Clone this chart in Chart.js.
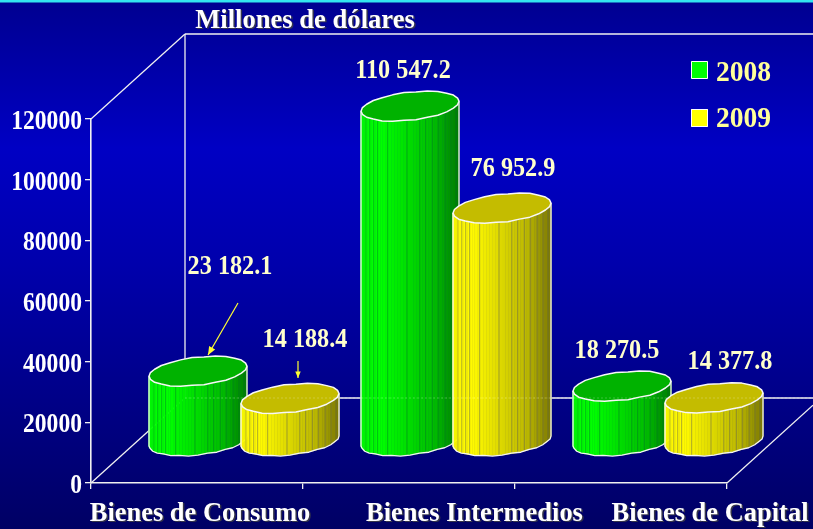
<!DOCTYPE html>
<html><head><meta charset="utf-8">
<style>html,body{margin:0;padding:0;background:#00008c}canvas{display:block}</style>
<script src="https://cdn.jsdelivr.net/npm/chart.js@4/dist/chart.umd.min.js"></script>
</head><body><div style="width:813px;height:529px"><canvas id="c" width="813" height="529"></canvas></div>
<script>
const categories = ["Bienes de Consumo", "Bienes Intermedios", "Bienes de Capital"];
const seriesNames = ["2008", "2009"];
const values2008 = [23182.1, 110547.2, 18270.5];
const values2009 = [14188.4, 76952.9, 14377.8];
const labels2008 = ["23 182.1", "110 547.2", "18 270.5"];
const labels2009 = ["14 188.4", "76 952.9", "14 377.8"];
const chartTitle = "Millones de dólares";

const SERIF = '"Liberation Serif","Times New Roman",serif';
const DEPTH = {x: 94, y: -85};
const MID = {x: 47, y: -41.5};
const TEXT_DY = 2;
const palette = [
  {r:0,g:255,b:0,top:'#00b200',rule:'rgba(0,110,40,.4)'},
  {r:255,g:250,b:0,top:'#c4bc00',rule:'rgba(100,100,80,.45)'}
];
const labelPos = [[[230,265],[403,69],[617,349]],[[305,338],[513,167],[730,360]]];
const catLabelX = [200,474.5,710];
const wobble = [0,.7,-.6,.5,.9,-.5,.6,-.7,.4,.8,-.4,.6,-.8,.5,.7,-.6,.4,-.5];
const facetRules = [.05,.09,.13,.17,.27,.47,.6,.66,.73,.79,.86,.92,.97];

function scaledText(ctx,t,x,y,sx){ctx.save();ctx.translate(x,y+TEXT_DY);ctx.scale(sx,1);ctx.fillText(t,0,0);ctx.restore();}
function shadowText(ctx,t,x,y,sx,color){
  ctx.fillStyle='rgba(60,60,70,.9)';scaledText(ctx,t,x+1.5,y+1.5,sx);
  ctx.fillStyle=color;scaledText(ctx,t,x,y,sx);
}
function ellPt(cx,cy,a,b,s,t){return [cx+a*Math.cos(t), cy+b*Math.sin(t)-s*Math.cos(t)];}
function shade(u){
  if(u<.2) return 1;
  if(u<.75) return 1-(u-.2)/.55*.26;
  return .74-(u-.75)/.25*.24;
}
function cylinder(ctx,el,pal){
  const a=el.width/2, b=14, s=5;
  const cx=el.x+MID.x, top=el.y+MID.y, bot=el.base+MID.y;
  const N=48;
  for(let i=0;i<N;i++){
    const t0=Math.PI*i/N,t1=Math.PI*(i+1)/N;
    const p0=ellPt(cx,bot,a,b,s,t0),p1=ellPt(cx,bot,a,b,s,t1);
    const q0=ellPt(cx,top,a,b,s,t0),q1=ellPt(cx,top,a,b,s,t1);
    const k=shade(((p0[0]+p1[0])/2-(cx-a))/(2*a));
    const col=`rgb(${Math.round(pal.r*k)},${Math.round(pal.g*k)},${pal.b})`;
    ctx.fillStyle=col;ctx.strokeStyle=col;ctx.lineWidth=.6;
    ctx.beginPath();ctx.moveTo(p0[0],p0[1]);ctx.lineTo(p1[0],p1[1]);ctx.lineTo(q1[0],q1[1]);ctx.lineTo(q0[0],q0[1]);ctx.closePath();ctx.fill();ctx.stroke();
  }
  ctx.strokeStyle=pal.rule;ctx.lineWidth=1;
  facetRules.forEach(u=>{
    const t=Math.acos(1-2*u);
    const p=ellPt(cx,bot,a,b,s,Math.PI-t),q=ellPt(cx,top,a,b,s,Math.PI-t);
    line(ctx,p[0],p[1],q[0],q[1]);
  });
  ctx.strokeStyle='#f4f4f4';ctx.lineWidth=1.3;ctx.lineJoin='round';
  ctx.beginPath();
  const first=ellPt(cx,top,a,b,s,Math.PI);ctx.moveTo(first[0],first[1]);
  const E=16;
  for(let i=E;i>=0;i--){const w=wobble[i%wobble.length]*.6;const p=ellPt(cx,bot+w,a,b,s,Math.PI*i/E);ctx.lineTo(p[0],p[1]);}
  const last=ellPt(cx,top,a,b,s,0);ctx.lineTo(last[0],last[1]);ctx.stroke();
  ctx.beginPath();
  const M=26;
  for(let i=0;i<M;i++){
    const t=2*Math.PI*i/M,w=1+wobble[i%wobble.length]*.04;
    const p=ellPt(cx,top,a,b*w,s,t);
    i?ctx.lineTo(p[0],p[1]):ctx.moveTo(p[0],p[1]);
  }
  ctx.closePath();ctx.fillStyle=pal.top;ctx.fill();ctx.strokeStyle='#f8f8f8';ctx.lineWidth=1.5;ctx.stroke();
}
function line(ctx,x0,y0,x1,y1){ctx.beginPath();ctx.moveTo(x0,y0);ctx.lineTo(x1,y1);ctx.stroke();}
function arrow(ctx,x0,y0,x1,y1,h){
  ctx.strokeStyle='#ffff33';ctx.fillStyle='#ffff33';ctx.lineWidth=1.2;line(ctx,x0,y0,x1,y1);
  const an=Math.atan2(y1-y0,x1-x0);
  ctx.beginPath();ctx.moveTo(x1,y1);
  ctx.lineTo(x1-h*Math.cos(an-.4),y1-h*Math.sin(an-.4));
  ctx.lineTo(x1-h*Math.cos(an+.4),y1-h*Math.sin(an+.4));ctx.closePath();ctx.fill();
}

const scene = {
  id:'scene',
  beforeDraw(chart){
    const {ctx,width,height}=chart;
    const g=ctx.createLinearGradient(0,0,0,height);
    g.addColorStop(0,'#000090');g.addColorStop(.28,'#0000c4');g.addColorStop(.5,'#0000ac');g.addColorStop(1,'#000064');
    ctx.save();ctx.fillStyle=g;ctx.fillRect(0,0,width,height);
    ctx.fillStyle='#33e6f0';ctx.fillRect(0,0,width,2.5);ctx.restore();
  },
  beforeDatasetsDraw(chart){
    const {ctx,chartArea:ca,width}=chart;
    const bx=ca.left+DEPTH.x, ty=ca.top+DEPTH.y, by=ca.bottom+DEPTH.y;
    ctx.save();ctx.strokeStyle='#f0f0f0';ctx.lineWidth=1.3;
    line(ctx,ca.left,ca.top,bx,ty);
    line(ctx,ca.left,ca.bottom,bx,by);
    line(ctx,bx,ty,bx,by);
    line(ctx,bx,ty,width,ty);
    line(ctx,bx,by,width,by);
    line(ctx,ca.right,ca.bottom,width,ca.bottom-(width-ca.right)*85/94);
    ctx.restore();
  },
  afterDatasetsDraw(chart){
    const {ctx,chartArea:ca,width,scales}=chart;
    const m=[chart.getDatasetMeta(0),chart.getDatasetMeta(1)];
    ctx.save();
    categories.forEach((_,j)=>{cylinder(ctx,m[0].data[j],palette[0]);cylinder(ctx,m[1].data[j],palette[1]);});
    ctx.strokeStyle='rgba(255,255,255,.22)';ctx.lineWidth=1;ctx.setLineDash([2,2]);
    line(ctx,ca.left+DEPTH.x,ca.bottom+DEPTH.y,width,ca.bottom+DEPTH.y);ctx.setLineDash([]);
    ctx.textBaseline='middle';
    ctx.textAlign='right';ctx.font='bold 26.5px '+SERIF;ctx.fillStyle='#ffffff';
    scales.y.ticks.forEach((tk,i)=>scaledText(ctx,String(tk.value),82,scales.y.getPixelForTick(i)+1,.89));
    ctx.textAlign='center';
    ctx.font='bold 28px '+SERIF;
    [labels2008,labels2009].forEach((arr,i)=>arr.forEach((t,j)=>{
      ctx.fillStyle='#ffffcc';scaledText(ctx,t,labelPos[i][j][0],labelPos[i][j][1],.865);
    }));
    ctx.font='bold 27px '+SERIF;
    categories.forEach((t,j)=>shadowText(ctx,t,catLabelX[j],512,.98,'#ffffff'));
    shadowText(ctx,chartTitle,305,19,.985,'#ffffff');
    const sq=[[691,61],[691,109]], colors=['#00ff00','#ffff00'], legY=[71,117];
    ctx.textAlign='left';ctx.font='bold 30px '+SERIF;
    seriesNames.forEach((t,i)=>{
      ctx.fillStyle=colors[i];ctx.fillRect(sq[i][0],sq[i][1],17,18);
      ctx.strokeStyle='#fff';ctx.lineWidth=1;ctx.strokeRect(sq[i][0]+.5,sq[i][1]+.5,16,17);
      ctx.fillStyle='#ffff99';scaledText(ctx,t,716,legY[i],.917);
    });
    arrow(ctx,238,303,208,355,9);
    arrow(ctx,298,361,298,378,7);
    ctx.restore();
  }
};

new Chart(document.getElementById('c'),{
  type:'bar',
  plugins:[scene],
  data:{labels:categories,datasets:[
    {label:seriesNames[0],data:values2008,backgroundColor:'rgba(0,0,0,0)',borderWidth:0},
    {label:seriesNames[1],data:values2009,backgroundColor:'rgba(0,0,0,0)',borderWidth:0}
  ]},
  options:{
    responsive:false,animation:false,
    layout:{padding:{top:119,right:86,bottom:0,left:0}},
    plugins:{legend:{display:false},title:{display:false},tooltip:{enabled:false}},
    datasets:{bar:{categoryPercentage:.868,barPercentage:1.065}},
    scales:{
      x:{offset:true,afterFit(s){s.height=46;},
         grid:{offset:true,drawOnChartArea:false,drawTicks:true,tickLength:6,color:'#f0f0f0',lineWidth:1.3},
         border:{color:'#f0f0f0',width:1.6},
         ticks:{display:false}},
      y:{min:0,max:120000,afterFit(s){s.width=91;},
         grid:{drawOnChartArea:false,tickLength:6,color:'#f0f0f0',lineWidth:1.3},
         border:{color:'#f0f0f0',width:1.6},
         ticks:{stepSize:20000,display:false}}
    }
  }
});
</script></body></html>
